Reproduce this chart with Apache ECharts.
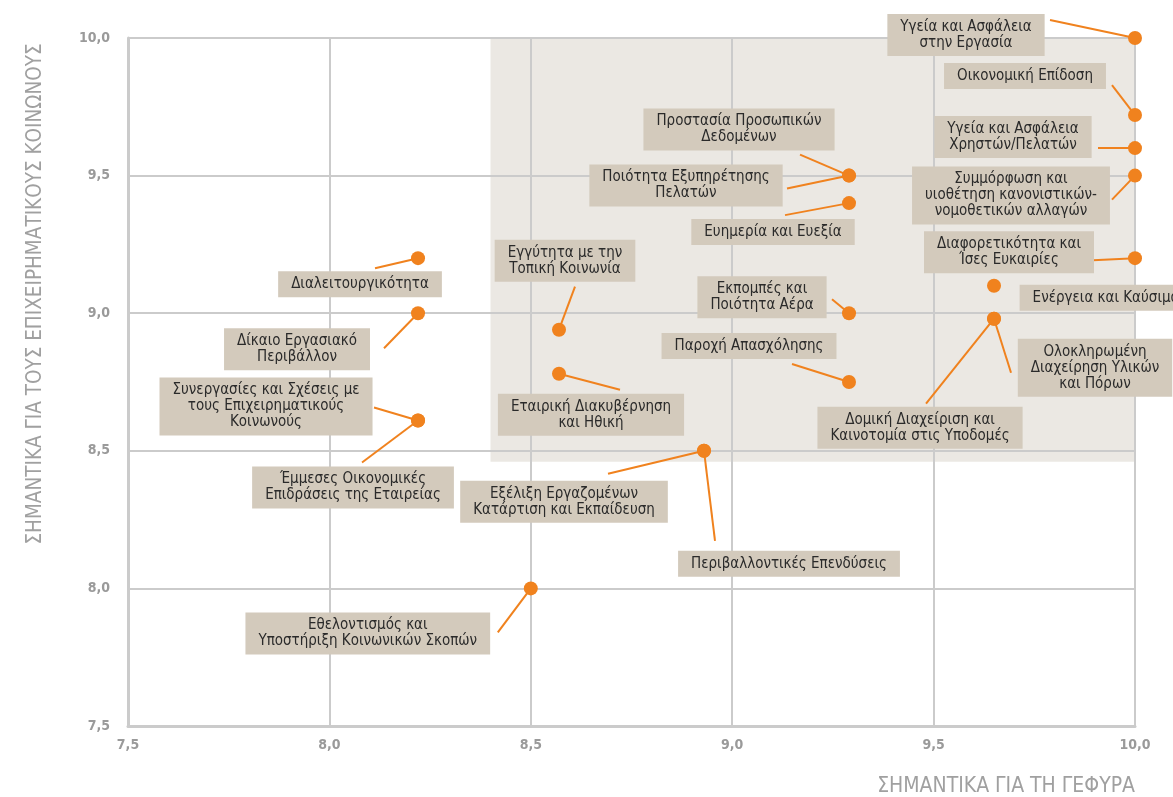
<!DOCTYPE html>
<html>
<head>
<meta charset="utf-8">
<style>
  html, body { margin: 0; padding: 0; background: #fff; }
  #chart { width: 1173px; height: 797px; }
</style>
<script src="https://cdn.jsdelivr.net/npm/echarts@6.0.0/dist/echarts.min.js"></script>
</head>
<body>
<div id="chart"></div>
<script>
// θέματα ουσιαστικότητας
var topics = [
  'Υγεία και Ασφάλεια\nστην Εργασία',
  'Οικονομική Επίδοση',
  'Υγεία και Ασφάλεια\nΧρηστών/Πελατών',
  'Συμμόρφωση και\nυιοθέτηση κανονιστικών-\nνομοθετικών αλλαγών',
  'Διαφορετικότητα και\nΊσες Ευκαιρίες',
  'Ενέργεια και Καύσιμα',
  'Ολοκληρωμένη\nΔιαχείρηση Υλικών\nκαι Πόρων',
  'Δομική Διαχείριση και\nΚαινοτομία στις Υποδομές',
  'Προστασία Προσωπικών\nΔεδομένων',
  'Ποιότητα Εξυπηρέτησης\nΠελατών',
  'Ευημερία και Ευεξία',
  'Εκπομπές και\nΠοιότητα Αέρα',
  'Παροχή Απασχόλησης',
  'Διαλειτουργικότητα',
  'Δίκαιο Εργασιακό\nΠεριβάλλον',
  'Συνεργασίες και Σχέσεις με\nτους Επιχειρηματικούς\nΚοινωνούς',
  'Έμμεσες Οικονομικές\nΕπιδράσεις της Εταιρείας',
  'Εγγύτητα με την\nΤοπική Κοινωνία',
  'Εταιρική Διακυβέρνηση\nκαι Ηθική',
  'Εξέλιξη Εργαζομένων\nΚατάρτιση και Εκπαίδευση',
  'Περιβαλλοντικές Επενδύσεις',
  'Εθελοντισμός και\nΥποστήριξη Κοινωνικών Σκοπών'
];
// σημαντικά για τη γέφυρα
var bridgeScore = [10, 10, 10, 10, 10, 9.65, 9.65, 9.65, 9.29, 9.29, 9.29, 9.29, 9.29,
  8.22, 8.22, 8.22, 8.22, 8.57, 8.57, 8.93, 8.93, 8.5];
// σημαντικά για τους επιχειρηματικούς κοινωνούς
var partnerScore = [10, 9.72, 9.6, 9.5, 9.2, 9.1, 8.98, 8.98, 9.5, 9.5, 9.4, 9.0, 8.75,
  9.2, 9.0, 8.61, 8.61, 8.94, 8.78, 8.5, 8.5, 8.0];
var axisTicks = [7.5, 8.0, 8.5, 9.0, 9.5, 10.0];
var focusArea = [[8.4, 8.46], [10, 10]];

// θέση ετικέτας (κέντρο κουτιού) και άκρο γραμμής, σε px από το σημείο
var labelLayout = [
  { box: [-169, -3], line: [-85, -18] },
  { box: [-110, -39], line: [-23, -30] },
  { box: [-122, -11], line: [-37, 0] },
  { box: [-124, 20], line: [-23, 24] },
  { box: [-126, -6], line: [-42, 2] },
  { box: [112, 12], line: null },
  { box: [101, 49], line: [17, 54] },
  { box: [-74, 109], line: [-68, 85] },
  { box: [-110, -46], line: [-49, -21] },
  { box: [-163, 10], line: [-62, 13] },
  { box: [-76, 29], line: [-64, 12] },
  { box: [-87, -16], line: [-17, -14] },
  { box: [-100, -36], line: [-57, -18] },
  { box: [-58, 26], line: [-43, 10] },
  { box: [-121, 36], line: [-34, 35] },
  { box: [-152, -14], line: [-44, -13] },
  { box: [-65, 67], line: [-56, 42] },
  { box: [6, -69], line: [16, -43] },
  { box: [32, 41], line: [61, 16] },
  { box: [-140, 51], line: [-96, 23] },
  { box: [85, 113], line: [11, 90] },
  { box: [-163, 45], line: [-33, 44] }
];

var ORANGE = '#f0821e';
var BOX = '#d3cabc';
var GRID = '#cbcbcb';
var FONT = '"Liberation Sans Narrow", "DejaVu Sans Condensed", "Roboto", sans-serif';

var points = bridgeScore.map(function (x, i) { return [x, partnerScore[i]]; });
var fmt = function (v) { return v.toFixed(1).replace('.', ','); };

var chart = echarts.init(document.getElementById('chart'));
chart.setOption({
  animation: false,
  backgroundColor: '#fff',
  grid: { left: 128, right: 38, top: 38, bottom: 71, containLabel: false, outerBoundsMode: 'none' },
  xAxis: {
    type: 'value', min: axisTicks[0], max: axisTicks[axisTicks.length - 1], interval: 0.5, z: 1,
    name: 'ΣΗΜΑΝΤΙΚΑ ΓΙΑ ΤΗ ΓΕΦΥΡΑ', nameLocation: 'end', nameGap: 0,
    nameTextStyle: { color: '#a0a0a0', fontSize: 21, fontFamily: FONT, align: 'right', verticalAlign: 'top', padding: [50, 0, 0, 0] },
    axisLine: { lineStyle: { color: GRID, width: 3 } },
    axisTick: { show: false },
    axisLabel: { color: '#9a9a9a', fontSize: 14, fontWeight: 'bold', fontFamily: FONT, margin: 12, formatter: fmt },
    splitLine: { lineStyle: { color: GRID, width: 2 } }
  },
  yAxis: {
    type: 'value', min: axisTicks[0], max: axisTicks[axisTicks.length - 1], interval: 0.5, z: 1,
    name: 'ΣΗΜΑΝΤΙΚΑ ΓΙΑ ΤΟΥΣ ΕΠΙΧΕΙΡΗΜΑΤΙΚΟΥΣ ΚΟΙΝΩΝΟΥΣ', nameLocation: 'middle', nameGap: 82, nameRotate: 90,
    nameTextStyle: { color: '#a0a0a0', fontSize: 20.5, fontFamily: FONT, padding: [0, 0, 0, 176] },
    axisLine: { show: true, lineStyle: { color: GRID, width: 3 } },
    axisTick: { show: false },
    axisLabel: { color: '#9a9a9a', fontSize: 14, fontWeight: 'bold', fontFamily: FONT, margin: 18, formatter: fmt },
    splitLine: { lineStyle: { color: GRID, width: 2 } }
  },
  series: [
    {
      type: 'custom',
      z: 3,
      clip: false,
      data: points,
      renderItem: function (params, api) {
        var i = params.dataIndex;
        var p = api.coord([api.value(0), api.value(1)]);
        var lay = labelLayout[i];
        var kids = [];
        if (lay.line) {
          kids.push({
            type: 'line',
            shape: { x1: p[0], y1: p[1], x2: p[0] + lay.line[0], y2: p[1] + lay.line[1] },
            style: { stroke: ORANGE, lineWidth: 2 }
          });
        }
        kids.push({
          type: 'text',
          x: p[0] + lay.box[0],
          y: p[1] + lay.box[1],
          style: {
            text: topics[i],
            align: 'center', verticalAlign: 'middle',
            fill: '#2a2a2a', fontSize: 15, fontFamily: FONT, lineHeight: 16,
            backgroundColor: BOX, padding: [5, 13]
          }
        });
        return { type: 'group', children: kids };
      },
      markArea: {
        silent: true, z: 0,
        itemStyle: { color: '#ebe8e3' },
        data: [[{ coord: focusArea[0] }, { coord: focusArea[1] }]]
      }
    },
    {
      type: 'scatter',
      z: 4,
      data: points,
      symbol: 'circle',
      symbolSize: 14,
      itemStyle: { color: ORANGE, opacity: 1 },
      clip: false
    }
  ]
});
</script>
</body>
</html>
